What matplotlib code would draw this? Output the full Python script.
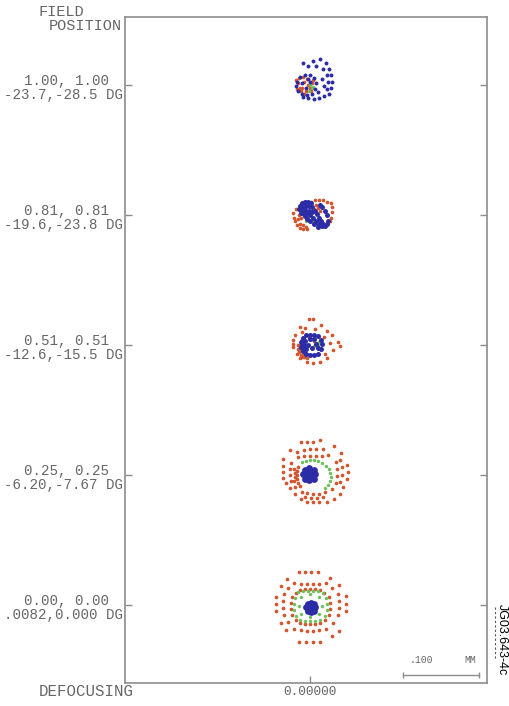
import matplotlib
matplotlib.use("Agg")
import matplotlib.pyplot as plt
from matplotlib.lines import Line2D
import numpy as np

# field rows (bottom = on axis), spot offsets are in micrometres
field_rel = ["0.00, 0.00", "0.25, 0.25", "0.51, 0.51", "0.81, 0.81", "1.00, 1.00"]
field_deg = [".0082,0.000 DG", "-6.20,-7.67 DG", "-12.6,-15.5 DG", "-19.6,-23.8 DG", "-23.7,-28.5 DG"]
field_row_y = [0, 171, 342, 513, 684]
defocus = [0.0]
defocus_labels = ["0.00000"]
scale_um = 100

red_f0 = [(-14, 43), (-7, 43), (1, 43), (11, 43), (-14, -49), (-5, -49), (4, -49), (13, -49),
          (-45, 11), (-45, 1), (-45, -8), (47, 12), (47, 1), (47, -8),
          (-30, 34), (-38, 25), (26, 36), (38, 26), (-38, -24), (-32, -33), (38, -34), (29, -41),
          (-21, 29), (-12, 28), (-4, 28), (4, 28), (12, 28), (21, 29), (-29, 22), (29, 22),
          (-34, 14), (-36, 5), (-36, -4), (-34, -13), (37, 14), (38, 5), (38, -4), (37, -13),
          (-29, -22), (30, -24), (-21, -32), (-12, -33), (-4, -34), (4, -34), (12, -33), (21, -32),
          (-13, 20), (-7, 21), (0, 21), (7, 21), (13, 20), (-24, 11), (-25, 3), (-25, -5), (-24, -13),
          (25, 11), (26, 3), (26, -5), (25, -13), (-13, -24), (-7, -25), (0, -25), (7, -25), (13, -24),
          (-18, 16), (18, 16), (-18, -20), (20, -20)]
green_f0 = [(-16, 17), (-9, 18), (-3, 18), (4, 18), (11, 18), (17, 16), (-20, 9), (-21, 1), (-21, -7),
            (-18, -14), (21, 9), (22, 1), (22, -7), (20, -14), (-13, -20), (-7, -21), (0, -21), (7, -21),
            (13, -20), (-12, 11), (12, 11), (-12, -12), (12, -12), (0, 14), (0, -16), (-14, -1), (16, -1)]
blue_f0 = [(1, -3), (4, -3), (-2, -3), (7, -3), (-5, -3), (1, 0), (1, -6), (1, 3), (1, -9), (4, 0), (-2, 0),
           (4, -6), (-2, -6), (5, 2), (-3, 2), (5, -8), (-3, -8)]

red_f1 = [(-12, 43), (-4, 43), (4, 43), (13, 46), (-26, 33), (-17, 30), (32, 38), (41, 29),
          (-36, 21), (-36, 12), (-36, 4), (-36, -4), (49, 13), (50, 4), (49, -5), (43, -16),
          (40, -25), (32, -32), (22, -36), (-4, -36), (4, -36), (12, -36), (-12, -32),
          (-20, -25), (-26, -17), (-32, -11), (-16, 24), (-8, 25), (0, 25), (8, 25), (16, 25), (24, 26),
          (34, 17), (36, 8), (36, -1), (34, -11), (29, -18), (-11, -22), (-4, -24), (4, -25), (12, -25),
          (20, -22), (-25, 16), (-26, 8), (-26, 0), (-25, -8), (-20, -16), (-16, 11), (-17, 5), (-17, 0),
          (-17, -5), (-16, -11), (-13, -14), (-20, 3), (-20, -3), (-21, -8), (-21, 8),
          (-8, 33), (0, 34), (8, 34), (17, 34), (40, 20), (42, 11), (42, 0), (40, -9),
          (-7, -29), (1, -30), (9, -30), (17, -29)]
green_f1 = [(-11, 17), (-5, 18), (0, 20), (5, 20), (11, 18), (16, 16), (21, 12), (25, 8), (26, 3),
            (28, -3), (26, -8), (24, -13), (20, -17)]
blue_f1 = [(-1, 1), (3, 1), (-5, 1), (7, 1), (-9, 1), (-1, 5), (-1, -3), (-1, 9), (-1, -7), (3, 5), (-5, 5),
           (3, -3), (-5, -3), (5, 7), (-7, 7), (5, -5), (-7, -5)]

red_f2 = [(-1, 34), (4, 34), (-13, 24), (14, 26), (22, 18), (29, 13), (-20, 14), (-22, 7), (-22, -3),
          (37, 4), (40, -1), (26, 3), (30, -7), (22, -17), (13, -22), (4, -24), (-4, -22), (-13, -17),
          (-7, 22), (7, 21), (18, 11), (20, -11), (-17, -12), (-11, 17), (-22, 2),
          (-16, -5), (-14, -9), (-12, -13), (-8, -16), (-4, -17), (-13, -3), (-11, -8), (-8, -12),
          (-16, 0), (-15, -7), (-10, -15), (-1, 9), (5, 5), (11, -3)]
green_f2 = [(8, 3), (11, 0), (12, 4), (9, -3), (5, -1)]
blue_f2 = [(-9, 9), (-12, 4), (-12, -3), (-9, -8), (-5, -12), (0, -13), (5, -13), (11, -11), (14, -5),
           (16, 1), (14, 7), (11, 12), (5, 14), (0, 14), (-5, 13), (-7, 5), (-8, 0), (-5, -5), (0, 8),
           (5, 8), (-3, 0), (3, -4), (8, 1), (11, -4), (-10, 1), (-10, 6), (-8, -4)]

red_f3 = [(7, 20), (12, 20), (17, 20), (22, 18), (28, 16), (1, 17), (29, 11), (29, 4), (28, -3), (26, -8),
          (-22, 3), (-21, -3), (-20, -8), (-17, -13), (-13, -17), (-9, -18), (-4, -18), (-18, 8),
          (-16, -5), (-13, -11), (-9, -13), (-5, -15), (-15, 0), (-12, -4), (8, 13), (11, 9), (13, 5), (5, 8)]
green_f3 = [(-3, -4), (1, -7), (4, -9), (-5, -8)]
blue_f3 = [(-11, 16), (-7, 17), (-3, 17), (1, 16), (-13, 12), (-9, 12), (-5, 12), (-1, 12), (-14, 8),
           (-11, 7), (-7, 7), (-12, 3), (-8, 1), (3, 11), (7, 5), (9, 1), (12, -3), (14, -7), (17, -11),
           (20, -14), (22, -12), (24, -7), (22, 0), (20, 5), (16, 11), (13, 14), (4, -3), (8, -7),
           (12, -11), (16, -14), (11, -16), (0, -8), (-4, -5), (-7, -1), (3, 4), (0, 0), (5, -12),
           (-1, 5), (-4, 1)]

red_f4 = [(-16, 3), (-13, -4), (-18, 7), (-14, 9), (-9, 11), (-4, 8), (-8, 4), (-11, -3), (-5, -7),
          (0, -3), (3, 3), (-3, 1), (-12, -8), (-17, -5), (-8, -11), (1, -8), (4, 7)]
green_f4 = [(0, 0), (3, -4), (-1, -7), (4, -2)]
blue_f4 = [(4, 32), (13, 34), (21, 29), (-3, 26), (8, 25), (17, 22), (25, 21), (28, 13), (22, 13),
           (29, 5), (24, 4), (28, -4), (22, -5), (25, -12), (18, -14), (12, -17), (5, -18), (-3, -17),
           (-9, -16), (16, 8), (18, -1), (11, -9), (-9, 30),
           (-17, 5), (-18, -1), (-16, -8), (-11, -12), (-4, -13), (3, -11), (7, -5), (8, 3), (5, 9),
           (0, 13), (-7, 14), (-13, 11), (-11, 3), (-5, -4), (0, 4), (-3, 8)]

reds = [red_f0, red_f1, red_f2, red_f3, red_f4]
greens = [green_f0, green_f1, green_f2, green_f3, green_f4]
blues = [blue_f0, blue_f1, blue_f2, blue_f3, blue_f4]
blue_size = [24, 24, 13, 13, 8]

RED = "#d2552e"
GREEN = "#6cc05a"
BLUE = "#2c2ca6"
GRAY = "#8c8c8c"
TXT = "#666666"
MONO = ["Liberation Mono", "DejaVu Sans Mono"]

W, H = 509, 706
fig = plt.figure(figsize=(W / 100, H / 100), dpi=100)
ax = fig.add_axes([125 / W, 23 / H, 362 / W, 666 / H])
ax.set_xlim(-243.5, 233)
ax.set_ylim(-102.6, 773.9)

for i, row_y in enumerate(field_row_y):
    for pts, col, s, z in [(reds[i], RED, 7, 2), (greens[i], GREEN, 6, 3), (blues[i], BLUE, blue_size[i], 4)]:
        a = np.array(pts, float)
        ax.scatter(defocus[0] + a[:, 0], row_y + a[:, 1], s=s, c=col, linewidths=0, zorder=z)

for sp in ax.spines.values():
    sp.set_color(GRAY)
    sp.set_linewidth(1.2)
ax.set_yticks(field_row_y)
ax.set_xticks(defocus)
ax.tick_params(direction="in", length=5, width=1, color=GRAY, labelleft=False, labelbottom=False,
               right=True, left=True, bottom=True, top=False)

for row_y, rel, deg in zip(field_row_y, field_rel, field_deg):
    ax.annotate(rel, xy=(0, row_y), xycoords=("axes fraction", "data"), xytext=(-11.5, 2.9),
                textcoords="offset points", ha="right", va="center", fontsize=10.2, family=MONO, color=TXT)
    ax.annotate(deg, xy=(0, row_y), xycoords=("axes fraction", "data"), xytext=(-1.4, -7.2),
                textcoords="offset points", ha="right", va="center", fontsize=10.2, family=MONO, color=TXT)

for x, lab in zip(defocus, defocus_labels):
    ax.annotate(lab, xy=(x, 0), xycoords=("data", "axes fraction"), xytext=(0, -6.5),
                textcoords="offset points", ha="center", va="center", fontsize=9.2, family=MONO, color=TXT)

fig.text(39 / W, 1 - 12 / H, "FIELD", fontsize=11, family=MONO, color=TXT, va="center")
fig.text(49 / W, 1 - 26 / H, "POSITION", fontsize=11, family=MONO, color=TXT, va="center")
fig.text(39 / W, 1 - 692 / H, "DEFOCUSING", fontsize=11.3, family=MONO, color=TXT, va="center")

# scale bar
x0 = 122.4
ax.plot([x0, x0 + scale_um], [-92, -92], color=GRAY, lw=1, marker="|", ms=4, mew=1)
ax.text(x0 + 24, -72, ".100", fontsize=7, family=MONO, color=TXT, ha="center", va="center")
ax.text(x0 + 88, -72, "MM", fontsize=7, family=MONO, color=TXT, ha="center", va="center")

fig.text(502 / W, 1 - 640 / H, "JG03.643-4c", rotation=270, fontsize=9,
         family=["Liberation Sans", "DejaVu Sans"], color="black", ha="center", va="center")
fig.add_artist(Line2D([495 / W, 495 / W], [1 - 607 / H, 1 - 660 / H], color="#555555",
                      lw=0.8, ls=(0, (2, 2))))

fig.savefig("out.png", dpi=100)
